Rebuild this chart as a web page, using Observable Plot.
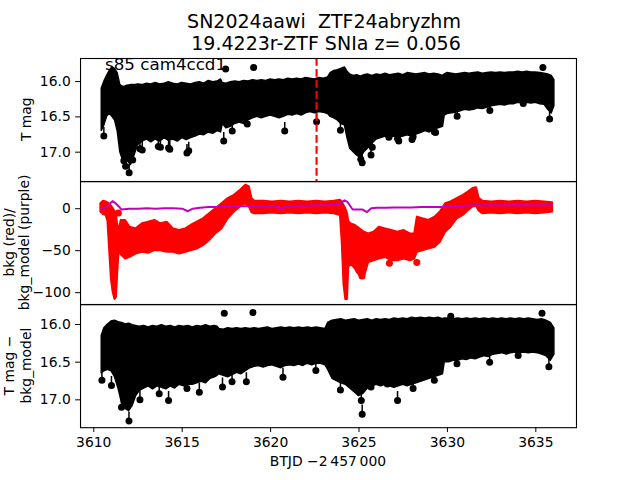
<!DOCTYPE html>
<html><head><meta charset="utf-8">
<script src="https://cdn.jsdelivr.net/npm/d3@7"></script>
<script src="https://cdn.jsdelivr.net/npm/@observablehq/plot@0.6"></script>
<style>
html,body{margin:0;padding:0;background:#fff;}
#fig{position:relative;width:640px;height:480px;overflow:hidden;font-family:"DejaVu Sans",sans-serif;background:#fff;}
#fig > svg{position:absolute;left:0;overflow:visible;}
</style></head><body><div id="fig"></div>
<script>
// ---------- data ----------
const xTicks = [3610, 3615, 3620, 3625, 3630, 3635];
const magTicks = [16.0, 16.5, 17.0];
const bkgTicks = [0, -50, -100];
const markerTime = [3622.6];

// Panel 1: T mag band (upper / lower envelope)
const p1T = [3610.45,3610.6,3610.75,3610.9,3611.05,3611.2,3611.35,3611.5,3611.7,3611.9,3612.1,3612.3,3612.5,3612.75,3613.0,3613.25,3613.5,3613.75,3614.0,3614.25,3614.5,3614.75,3615.0,3615.25,3615.5,3615.75,3616.0,3616.25,3616.5,3616.75,3617.0,3617.2,3617.3,3617.5,3617.75,3618.0,3618.25,3618.5,3618.75,3619.0,3619.25,3619.5,3619.75,3620.0,3620.25,3620.5,3620.75,3621.0,3621.25,3621.5,3621.75,3622.0,3622.25,3622.5,3622.75,3623.0,3623.25,3623.4,3623.6,3623.8,3624.0,3624.2,3624.35,3624.5,3624.7,3624.9,3625.1,3625.3,3625.5,3625.75,3626.0,3626.25,3626.5,3626.75,3627.0,3627.25,3627.5,3627.75,3628.0,3628.25,3628.5,3628.75,3629.0,3629.25,3629.5,3629.75,3629.85,3630.0,3630.25,3630.5,3630.75,3631.0,3631.25,3631.5,3631.75,3632.0,3632.25,3632.5,3632.75,3633.0,3633.25,3633.5,3633.75,3634.0,3634.25,3634.5,3634.75,3635.0,3635.25,3635.5,3635.7,3635.9,3636.05];
const p1Top = [16.10,16.00,15.92,15.85,15.80,15.82,15.88,16.05,16.08,16.06,16.05,16.05,16.04,16.05,16.03,16.04,16.02,16.04,16.03,16.01,16.03,16.04,16.02,16.03,16.04,16.02,16.01,16.03,15.99,16.01,16.00,15.97,16.02,16.03,16.01,16.00,16.01,15.99,16.00,15.98,15.99,15.98,15.99,15.97,15.98,15.97,15.98,15.96,15.97,15.96,15.97,15.95,15.96,15.97,15.95,15.96,15.94,15.88,15.85,15.84,15.82,15.80,15.86,15.90,15.92,15.91,15.93,15.91,15.90,15.92,15.90,15.91,15.89,15.91,15.90,15.89,15.91,15.88,15.89,15.90,15.89,15.88,15.90,15.89,15.90,15.92,15.90,15.88,15.89,15.90,15.89,15.88,15.89,15.88,15.87,15.89,15.88,15.87,15.88,15.87,15.88,15.87,15.87,15.86,15.87,15.86,15.87,15.87,15.88,15.89,15.90,15.92,15.98];
const p1Bot = [16.70,16.62,16.50,16.45,16.50,16.55,16.70,17.00,17.15,17.12,17.18,17.05,16.90,16.85,16.82,16.86,16.82,16.85,16.80,16.84,16.82,16.85,16.80,16.83,16.80,16.78,16.75,16.76,16.72,16.74,16.70,16.72,16.60,16.66,16.64,16.60,16.58,16.60,16.55,16.52,16.50,16.52,16.50,16.48,16.50,16.52,16.50,16.47,16.48,16.46,16.48,16.45,16.43,16.45,16.43,16.44,16.46,16.50,16.52,16.55,16.60,16.62,16.80,16.95,17.00,17.05,17.08,17.00,16.95,16.88,16.82,16.80,16.78,16.80,16.78,16.80,16.78,16.76,16.78,16.75,16.73,16.70,16.72,16.68,16.66,16.64,16.48,16.46,16.45,16.44,16.42,16.40,16.41,16.40,16.38,16.39,16.37,16.35,16.34,16.33,16.34,16.32,16.32,16.30,16.31,16.30,16.31,16.30,16.32,16.33,16.40,16.45,16.35];
const p1SpikeT = [3610.57,3611.7,3611.8,3612.0,3612.2,3612.61,3612.74,3613.65,3613.77,3614.23,3614.3,3615.27,3615.37,3617.35,3617.83,3618.68,3620.8,3622.6,3623.95,3625.05,3625.1,3625.18,3625.68,3625.75,3626.69,3627.18,3627.25,3628.0,3628.06,3629.26,3629.33,3630.55,3632.4,3634.29,3635.78];
const p1SpikeM = [16.77,17.12,17.2,17.29,17.11,16.95,16.97,16.92,16.93,16.94,16.96,17.01,16.98,16.84,16.70,16.60,16.70,16.57,16.69,17.00,17.10,17.15,17.04,16.93,16.79,16.81,16.84,16.82,16.78,16.71,16.72,16.49,16.41,16.31,16.53];
const p1OutT = [3617.46, 3619.04, 3635.4];
const p1OutM = [15.82, 15.80, 15.80];

// Panel 2: bkg (red) envelope and bkg_model (purple)
const p2T = [3610.40,3610.55,3610.70,3610.80,3610.90,3611.00,3611.10,3611.20,3611.28,3611.36,3611.45,3611.55,3611.80,3612.05,3612.40,3612.75,3613.10,3613.45,3613.80,3614.15,3614.50,3614.85,3615.20,3615.50,3615.85,3616.20,3616.55,3616.90,3617.25,3617.60,3617.95,3618.30,3618.60,3618.80,3618.95,3619.10,3619.6,3620.1,3620.6,3621.1,3621.6,3622.1,3622.6,3623.1,3623.6,3623.95,3624.05,3624.15,3624.25,3624.35,3624.42,3624.55,3624.80,3625.05,3625.30,3625.55,3625.85,3626.15,3626.50,3626.85,3627.20,3627.55,3627.90,3628.15,3628.30,3628.60,3628.95,3629.30,3629.60,3629.90,3630.20,3630.55,3630.90,3631.20,3631.45,3631.65,3631.80,3632.00,3632.5,3633.0,3633.5,3634.0,3634.5,3635.0,3635.5,3635.95];
const p2Hi = [6,9,8,7,5,3,0,-3,-8,-20,-25,-14,-14,-22,-24,-18,-16,-14,-18,-16,-24,-26,-24,-20,-16,-12,-6,0,6,12,16,22,28,26,12,9,9,8,9,8,9,8,9,8,9,10,8,4,0,-6,-15,-18,-20,-24,-28,-30,-28,-22,-24,-26,-28,-26,-30,-30,-10,-12,-14,-10,-4,6,8,12,16,20,24,25,12,9,8,9,8,9,8,9,8,7];
const p2Lo = [-4,-7,-8,-15,-50,-85,-100,-108,-106,-75,-45,-55,-60,-58,-54,-52,-53,-50,-50,-52,-52,-54,-52,-50,-48,-44,-38,-30,-24,-12,-4,2,6,2,-5,-6,-6,-5,-6,-5,-6,-5,-6,-5,-6,-8,-40,-90,-108,-108,-70,-66,-72,-80,-82,-64,-62,-60,-58,-62,-62,-60,-62,-60,-52,-50,-48,-46,-40,-28,-22,-12,-8,-2,2,3,-3,-6,-5,-6,-5,-6,-5,-6,-5,-4];
const p2OutT = [3611.39, 3624.99, 3625.17, 3626.72, 3628.27];
const p2OutV = [-5, -73, -80, -65, -64];
const modelT = [3610.45,3610.7,3610.9,3611.06,3611.2,3611.4,3611.57,3612.0,3612.5,3613.0,3613.5,3614.0,3614.5,3615.0,3615.32,3615.6,3616.0,3616.5,3617.0,3617.5,3618.0,3618.5,3619.0,3619.5,3620.0,3620.4,3620.59,3620.8,3621.5,3622.0,3622.5,3623.0,3623.5,3623.83,3624.18,3624.35,3624.64,3624.9,3625.2,3625.45,3625.7,3626.0,3626.5,3627.0,3627.5,3628.0,3628.5,3629.0,3629.5,3630.0,3630.77,3631.0,3631.5,3632.0,3632.5,3633.0,3633.5,3634.0,3634.5,3635.0,3635.5,3635.9];
const modelV = [0,2,6,9,7,3,-1,0,0,0.5,0,0.5,0.5,0,-3,0,1,2,2,2.5,3,3,3,3,3,3,-1,3,3.5,3.5,4,4,4.5,5,10,8,-1,-1,-1,-4,0.5,1,1,1.5,1.5,1.5,2,2,2,2,3,3.5,4,4,4,4,4,4.5,4,4,4,4.5];

// Panel 3: T mag - bkg_model band
const p3T = [3610.45,3610.6,3610.8,3611.0,3611.2,3611.4,3611.6,3611.8,3612.0,3612.2,3612.4,3612.6,3612.85,3613.1,3613.35,3613.6,3613.85,3614.1,3614.35,3614.6,3614.85,3615.1,3615.35,3615.6,3615.85,3616.1,3616.35,3616.6,3616.85,3617.0,3617.1,3617.35,3617.6,3617.85,3618.1,3618.35,3618.6,3618.85,3619.1,3619.35,3619.6,3619.85,3620.1,3620.35,3620.6,3620.85,3621.1,3621.35,3621.6,3621.85,3622.1,3622.35,3622.6,3622.85,3623.1,3623.25,3623.5,3623.75,3624.0,3624.25,3624.5,3624.75,3625.0,3625.25,3625.5,3625.75,3626.0,3626.25,3626.5,3626.75,3627.0,3627.25,3627.5,3627.75,3628.0,3628.25,3628.5,3628.75,3629.0,3629.25,3629.5,3629.75,3629.85,3630.1,3630.35,3630.6,3630.85,3631.1,3631.35,3631.6,3631.85,3632.1,3632.35,3632.6,3632.85,3633.1,3633.35,3633.6,3633.85,3634.1,3634.35,3634.6,3634.85,3635.1,3635.35,3635.6,3635.85,3636.05];
const p3Top = [16.15,16.05,16.00,15.96,15.95,15.97,15.98,16.00,15.99,16.01,16.02,16.03,16.02,16.04,16.02,16.03,16.01,16.03,16.02,16.04,16.02,16.03,16.02,16.04,16.02,16.03,16.01,16.03,16.02,16.03,16.06,16.07,16.05,16.06,16.05,16.06,16.05,16.06,16.05,16.06,16.05,16.04,16.06,16.05,16.04,16.05,16.04,16.05,16.04,16.05,16.04,16.05,16.04,16.05,16.06,15.98,15.95,15.94,15.93,15.95,15.94,15.93,15.95,15.94,15.93,15.95,15.93,15.94,15.93,15.94,15.92,15.93,15.92,15.93,15.91,15.92,15.91,15.92,15.91,15.92,15.91,15.93,15.92,15.92,15.93,15.92,15.93,15.92,15.93,15.92,15.93,15.92,15.93,15.92,15.93,15.92,15.93,15.92,15.93,15.92,15.93,15.92,15.93,15.94,15.93,15.95,15.98,16.05];
const p3Bot = [16.65,16.62,16.60,16.62,16.70,16.85,17.05,17.12,17.15,17.08,16.95,16.88,16.85,16.82,16.86,16.82,16.84,16.86,16.82,16.85,16.80,16.82,16.80,16.80,16.78,16.76,16.78,16.72,16.70,16.68,16.66,16.68,16.70,16.67,16.64,16.66,16.62,16.58,16.56,16.55,16.57,16.55,16.54,16.56,16.58,16.55,16.54,16.55,16.53,16.55,16.52,16.54,16.52,16.52,16.54,16.60,16.72,16.75,16.78,16.80,16.85,16.90,16.95,16.92,16.85,16.82,16.80,16.82,16.80,16.82,16.84,16.82,16.80,16.82,16.80,16.78,16.76,16.74,16.72,16.70,16.68,16.66,16.50,16.50,16.48,16.48,16.46,16.47,16.45,16.46,16.44,16.42,16.43,16.40,16.39,16.38,16.40,16.38,16.37,16.38,16.37,16.38,16.37,16.38,16.40,16.42,16.48,16.40];
const p3SpikeT = [3610.46,3611.0,3611.57,3611.99,3612.61,3613.7,3614.23,3615.27,3615.97,3617.28,3617.82,3618.63,3620.7,3622.56,3623.95,3625.13,3625.18,3625.68,3626.6,3627.18,3628.06,3629.26,3630.54,3632.39,3634.0,3635.74];
const p3SpikeM = [16.74,16.81,17.10,17.28,17.00,16.92,17.01,16.85,16.90,16.83,16.76,16.76,16.70,16.61,16.87,17.01,17.19,16.83,16.79,17.01,16.85,16.74,16.52,16.50,16.41,16.56];
const p3OutT = [3617.38, 3619.0, 3630.19, 3635.35];
const p3OutM = [15.85, 15.84, 15.89, 15.85];

// ---------- helpers ----------
const zip = (t, a, b) => t.map((d, i) => ({t: d, a: a[i], b: b ? b[i] : undefined}));
const X_DOMAIN = [3609.25, 3637.3];
const W = 640, ML = 80, MR = 64, PH = 123.2;
const magFmt = d => d.toFixed(1);
const bkgFmt = d => d < 0 ? "\u2212" + Math.abs(d) : String(d);
const baseStyle = {background: "transparent", color: "black", fontFamily: "DejaVu Sans, sans-serif", fontSize: "13.9px", overflow: "visible"};
const fig = document.getElementById("fig");

function magMarks(band, spikes, outs) {
  return [
    Plot.areaY(band, {x: "t", y1: "a", y2: "b", fill: "black", stroke: "black", strokeWidth: 1.5, clip: true}),
    Plot.ruleX(spikes, {x: "t", y1: d => d.a - 0.12, y2: d => d.a + 0.03, stroke: "black", strokeWidth: 1.5, clip: true}),
    Plot.dot(spikes, {x: "t", y: "a", r: 3.5, fill: "black", stroke: "none", clip: true}),
    Plot.ruleX(outs, {x: "t", y1: d => d.a - 0.03, y2: d => d.a + 0.03, stroke: "black", strokeWidth: 1.5}),
    Plot.dot(outs, {x: "t", y: "a", r: 3.5, fill: "black", stroke: "none"})
  ];
}

// Panel 1
const panel1 = Plot.plot({
  width: W, height: PH, marginLeft: ML, marginRight: MR, marginTop: 0, marginBottom: 0,
  style: baseStyle,
  x: {domain: X_DOMAIN, axis: null},
  y: {domain: [17.418, 15.673], axis: null},
  marks: [
    ...magMarks(zip(p1T, p1Top, p1Bot), zip(p1SpikeT, p1SpikeM), zip(p1OutT, p1OutM)),
    Plot.ruleX(markerTime, {x: d => d, stroke: "#ff0000", strokeWidth: 2.1, strokeDasharray: "7.7,3.3"}),
    Plot.axisY(magTicks, {tickSize: 4.9, tickPadding: 4.9, tickFormat: magFmt, label: null}),
    Plot.frame({stroke: "black", strokeWidth: 1.1})
  ]
});
panel1.style.top = "57.6px";
fig.appendChild(panel1);

// Panel 2
const panel2 = Plot.plot({
  width: W, height: PH, marginLeft: ML, marginRight: MR, marginTop: 0, marginBottom: 0,
  style: baseStyle,
  x: {domain: X_DOMAIN, axis: null},
  y: {domain: [-114.3, 32.4], axis: null},
  marks: [
    Plot.areaY(zip(p2T, p2Hi, p2Lo), {x: "t", y1: "a", y2: "b", fill: "#ff0000", stroke: "#ff0000", strokeWidth: 2, strokeLinejoin: "round", clip: true}),
    Plot.dot(zip(p2OutT, p2OutV), {x: "t", y: "a", r: 3.5, fill: "#ff0000", stroke: "none"}),
    Plot.line(zip(modelT, modelV), {x: "t", y: "a", stroke: "#bf00bf", strokeWidth: 2}),
    Plot.axisY(bkgTicks, {tickSize: 4.9, tickPadding: 4.9, tickFormat: bkgFmt, label: null}),
    Plot.frame({stroke: "black", strokeWidth: 1.1})
  ]
});
panel2.style.top = "180.8px";
fig.appendChild(panel2);

// Panel 3
const panel3 = Plot.plot({
  width: W, height: PH + 50, marginLeft: ML, marginRight: MR, marginTop: 0, marginBottom: 50,
  style: baseStyle,
  x: {domain: X_DOMAIN, axis: null},
  y: {domain: [17.37, 15.734], axis: null},
  marks: [
    ...magMarks(zip(p3T, p3Top, p3Bot), zip(p3SpikeT, p3SpikeM), zip(p3OutT, p3OutM)),
    Plot.axisY(magTicks, {tickSize: 4.9, tickPadding: 4.9, tickFormat: magFmt, label: null}),
    Plot.axisX(xTicks, {tickSize: 4.9, tickPadding: 4.9, tickFormat: d => String(d), label: null}),
    Plot.frame({stroke: "black", strokeWidth: 1.1})
  ]
});
panel3.style.top = "304px";
fig.appendChild(panel3);

// Text overlay
const ov = d3.select(fig).append("svg")
  .attr("width", 640).attr("height", 480)
  .style("top", "0px").style("pointer-events", "none")
  .style("font-family", "DejaVu Sans, sans-serif");
function txt(x, y, s, size, anchor, rot) {
  const t = ov.append("text").text(s)
    .attr("font-size", size).attr("text-anchor", anchor || "start")
    .attr("fill", "black").style("white-space", "pre");
  if (rot) t.attr("transform", `translate(${x},${y}) rotate(-90)`);
  else t.attr("x", x).attr("y", y);
  return t;
}
txt(324, 28, "SN2024aawi  ZTF24abryzhm", 19, "middle");
txt(326, 50, "19.4223r-ZTF SNIa z= 0.056", 19, "middle");
txt(105, 70, "s85 cam4ccd1", 16.7, "start");
txt(31, 119.2, "T mag", 13.9, "middle", true);
txt(13.5, 242.4, "bkg (red)/", 13.9, "middle", true);
txt(29, 242.4, "bkg_model (purple)", 13.9, "middle", true);
txt(14, 365.6, "T mag \u2212", 13.9, "middle", true);
txt(30.5, 365.6, "bkg_model", 13.9, "middle", true);
txt(328, 466, "BTJD \u22122\u2009457\u2009000", 13.9, "middle");
</script></body></html>
